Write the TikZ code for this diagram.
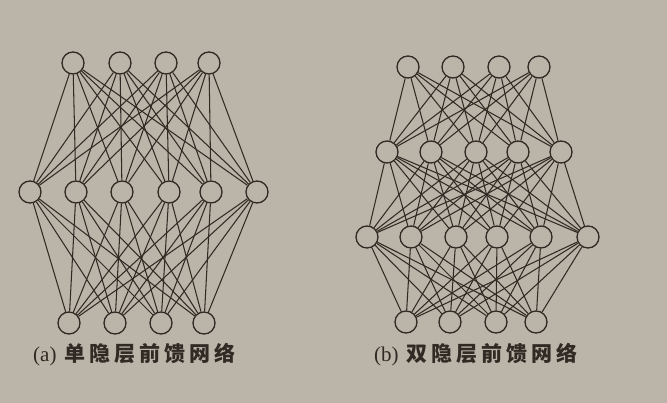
\documentclass[tikz,border=0pt]{standalone}
\usepackage{fontspec}
\newfontfamily\cjk[LetterSpace=19]{Noto Sans CJK SC}
\newfontfamily\latin{Liberation Serif}
\definecolor{paper}{RGB}{186,181,168}
\definecolor{ink}{RGB}{48,42,36}
\begin{document}
\begin{tikzpicture}[x=1pt,y=-1pt,
  neuron/.style={circle,draw=ink,line width=1.3pt,minimum size=22pt,inner sep=0pt},
  link/.style={draw=ink,line width=1.05pt},
  caption/.style={font=\fontsize{21}{24}\selectfont,text=ink,inner sep=0pt}]
\fill[paper] (0,0) rectangle (667,403);
\useasboundingbox (0,0) rectangle (667,403);
% (a)
\foreach \x [count=\i] in {73,120,166,209} \node[neuron] (at\i) at (\x,63) {};
\foreach \x [count=\i] in {30,76,122,169,211,257} \node[neuron] (am\i) at (\x,192) {};
\foreach \x [count=\i] in {69,115,161,204} \node[neuron] (ab\i) at (\x,323) {};
\foreach \i in {1,...,4} \foreach \j in {1,...,6} {
  \draw[link] (at\i) -- (am\j);
  \draw[link] (am\j) -- (ab\i);
}
% (b)
\foreach \x [count=\i] in {408,453,499,539} \node[neuron] (bt\i) at (\x,67) {};
\foreach \x [count=\i] in {387,431,476,518,561} \node[neuron] (bh\i) at (\x,152) {};
\foreach \x [count=\i] in {367,411,456,497,541,588} \node[neuron] (bm\i) at (\x,237) {};
\foreach \x [count=\i] in {406,450,496,536} \node[neuron] (bb\i) at (\x,322) {};
\foreach \i in {1,...,4} \foreach \j in {1,...,5} \draw[link] (bt\i) -- (bh\j);
\foreach \i in {1,...,5} \foreach \j in {1,...,6} \draw[link] (bh\i) -- (bm\j);
\foreach \i in {1,...,6} \foreach \j in {1,...,4} \draw[link] (bm\i) -- (bb\j);
% captions
\node[caption,anchor=west] (capa) at (33,355) {{\latin (a)}\hspace{8pt}{\cjk\bfseries 单隐层前馈网络}};
\node[caption,anchor=west] (capb) at (374,355) {{\latin (b)}\hspace{8pt}{\cjk\bfseries 双隐层前馈网络}};
\end{tikzpicture}
\end{document}
